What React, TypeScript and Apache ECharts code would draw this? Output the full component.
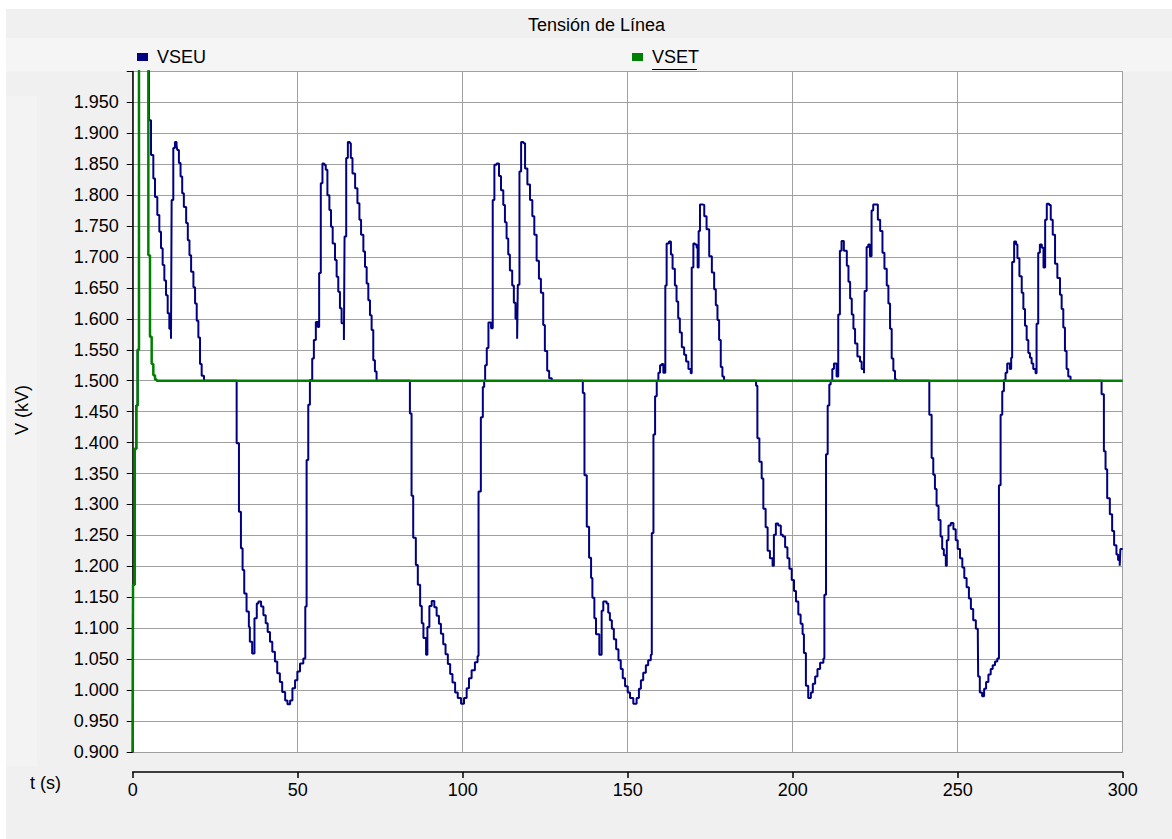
import React, { useEffect, useRef } from "react";
import * as echarts from "echarts";

const FONT = "'Liberation Sans', Arial, sans-serif";

const chartTitle = "Tensión de Línea";
const seriesNames = ["VSEU", "VSET"];
const xTicks = { min: 0, max: 300, interval: 50 };
const yTicks = { min: 0.9, max: 2.0, interval: 0.05 };

// VSET: [t (s), V (kV)]
const vsetData = [
  [0, 0.9], [0.1, 1.17], [0.6, 1.39], [1.1, 1.46], [1.5, 1.55], [1.9, 2.2],
  [4.74, 1.703], [5.24, 1.571], [5.75, 1.527], [6.25, 1.509], [6.76, 1.502], [7.27, 1.5], [300, 1.5],
];

// VSEU segments: [t (s), V (kV)]
const vseuStart = [
  [0, 0.9], [0.1, 1.17], [0.6, 1.39], [1.1, 1.46], [1.5, 1.55], [1.9, 2.2],
  [4.94, 1.921], [5.55, 1.865], [6.25, 1.827], [6.76, 1.797], [7.46, 1.768], [8.07, 1.741], [8.58, 1.714],
  [9.08, 1.687], [9.59, 1.662], [10.1, 1.638], [10.6, 1.609], [11.1, 1.584], [11.6, 1.568], [11.8, 1.792],
  [12.3, 1.876], [12.8, 1.886], [13.3, 1.88], [13.5, 1.873], [14.0, 1.852], [14.5, 1.83], [15.0, 1.803],
  [15.5, 1.781], [16.2, 1.755], [16.7, 1.727], [17.2, 1.703], [17.7, 1.676], [18.4, 1.651], [18.9, 1.625],
  [19.4, 1.597], [19.9, 1.57], [20.4, 1.527], [20.9, 1.508], [21.6, 1.5],
];

const vseuCycle1 = [
  [31.5, 1.399], [32.2, 1.288], [32.8, 1.229], [33.3, 1.194], [33.8, 1.156], [34.5, 1.127], [35.2, 1.102],
  [35.5, 1.078], [36.2, 1.059], [36.9, 1.116], [37.6, 1.14], [38.1, 1.143], [38.9, 1.135], [39.6, 1.121],
  [40.3, 1.108], [40.9, 1.094], [41.6, 1.078], [42.3, 1.062], [43.1, 1.046], [43.8, 1.027], [44.6, 1.013],
  [45.3, 0.997], [46.2, 0.983], [46.9, 0.977], [47.7, 0.983], [48.4, 1.003], [49.2, 1.016], [49.9, 1.03],
  [50.7, 1.043], [51.7, 1.051], [52.3, 1.135], [52.7, 1.372], [53.2, 1.461], [53.7, 1.501], [54.4, 1.536],
  [54.9, 1.566], [55.5, 1.595], [56.1, 1.587], [56.5, 1.674], [57.0, 1.819], [57.5, 1.851], [58.0, 1.849],
  [58.5, 1.841], [59.0, 1.8], [59.6, 1.776], [60.1, 1.749], [60.6, 1.722], [61.3, 1.695], [61.8, 1.668],
  [62.3, 1.644], [62.8, 1.617], [63.3, 1.593], [64.0, 1.566], [64.2, 1.733], [64.7, 1.86], [65.2, 1.886],
  [65.8, 1.884], [66.1, 1.86], [66.6, 1.835], [67.4, 1.811], [68.1, 1.787], [68.7, 1.76], [69.2, 1.736],
  [69.9, 1.709], [70.4, 1.684], [70.9, 1.657], [71.4, 1.63], [71.9, 1.606], [72.4, 1.582], [72.9, 1.533],
  [73.4, 1.515], [73.9, 1.5],
];

const vseuCycle2 = [
  [84.0, 1.447], [84.5, 1.314], [85.0, 1.246], [85.8, 1.202], [86.4, 1.17], [87.1, 1.136], [87.6, 1.108],
  [88.1, 1.084], [88.9, 1.057], [89.3, 1.102], [89.9, 1.136], [90.6, 1.144], [91.4, 1.134], [92.1, 1.12],
  [92.8, 1.107], [93.4, 1.091], [94.1, 1.074], [94.8, 1.058], [95.5, 1.042], [96.2, 1.026], [96.9, 1.012],
  [97.7, 0.996], [98.5, 0.987], [99.5, 0.978], [100.4, 0.987], [101.2, 1.003], [101.9, 1.019], [102.7, 1.032],
  [103.7, 1.045], [104.5, 1.055], [104.8, 1.321], [105.5, 1.441], [106.1, 1.49], [106.5, 1.5], [106.8, 1.525],
  [107.3, 1.553], [107.8, 1.594], [108.6, 1.585], [109.1, 1.792], [109.6, 1.849], [110.3, 1.851], [111.0, 1.831],
  [111.6, 1.808], [112.3, 1.784], [112.8, 1.756], [113.3, 1.73], [113.8, 1.704], [114.3, 1.678], [115.0, 1.654],
  [115.5, 1.626], [116.0, 1.6], [116.5, 1.568], [116.7, 1.655], [117.2, 1.838], [117.7, 1.886], [118.4, 1.884],
  [118.9, 1.843], [119.6, 1.817], [120.4, 1.792], [121.1, 1.766], [121.7, 1.736], [122.4, 1.694], [123.1, 1.665],
  [123.7, 1.642], [124.4, 1.59], [124.9, 1.548], [125.6, 1.516], [126.2, 1.504], [127.0, 1.5],
];

const vseuCycle3 = [
  [136.4, 1.48], [136.9, 1.347], [137.6, 1.264], [138.3, 1.214], [138.9, 1.181], [139.3, 1.149], [139.9, 1.116],
  [140.4, 1.09], [141.4, 1.057], [142.1, 1.128], [142.6, 1.143], [143.6, 1.14], [144.1, 1.125], [144.6, 1.113],
  [145.2, 1.099], [145.8, 1.082], [146.5, 1.066], [147.2, 1.048], [147.9, 1.034], [148.5, 1.019], [149.2, 1.006],
  [150.0, 0.996], [150.7, 0.987], [151.7, 0.978], [152.7, 0.987], [153.4, 1.002], [154.0, 1.016], [154.7, 1.028],
  [155.5, 1.04], [156.2, 1.048], [157.0, 1.057], [157.3, 1.254], [157.8, 1.413], [158.3, 1.475], [158.8, 1.5],
  [159.3, 1.513], [159.8, 1.525], [160.3, 1.527], [160.8, 1.513], [161.4, 1.654], [161.8, 1.722], [162.5, 1.725],
  [163.1, 1.704], [163.6, 1.681], [164.3, 1.654], [164.8, 1.628], [165.3, 1.601], [165.8, 1.578], [166.4, 1.554],
  [167.1, 1.542], [167.7, 1.531], [168.4, 1.519], [169.1, 1.512], [169.4, 1.683], [169.9, 1.722], [170.4, 1.72],
  [170.9, 1.715], [171.2, 1.683], [171.5, 1.742], [171.9, 1.785], [172.6, 1.784], [173.2, 1.766], [173.9, 1.745],
  [174.7, 1.701], [175.5, 1.675], [176.2, 1.648], [176.7, 1.622], [177.2, 1.598], [177.7, 1.566], [178.2, 1.522],
  [178.7, 1.507], [179.2, 1.5],
];

const vseuCycle4 = [
  [188.9, 1.492], [189.3, 1.407], [189.9, 1.369], [190.6, 1.342], [191.1, 1.293], [191.8, 1.263], [192.4, 1.225],
  [193.1, 1.213], [193.9, 1.201], [194.3, 1.251], [194.9, 1.269], [195.6, 1.266], [196.4, 1.251], [197.0, 1.248],
  [197.7, 1.231], [198.4, 1.213], [199.0, 1.196], [199.7, 1.178], [200.4, 1.16], [201.0, 1.143], [201.7, 1.122],
  [202.4, 1.107], [203.0, 1.09], [203.4, 1.06], [204.0, 1.007], [204.7, 0.987], [205.5, 0.996], [206.1, 1.01],
  [206.8, 1.022], [207.5, 1.034], [208.3, 1.044], [209.3, 1.051], [209.6, 1.154], [210.1, 1.381], [210.6, 1.46],
  [211.1, 1.494], [211.5, 1.5], [212.0, 1.519], [212.5, 1.528], [213.3, 1.507], [213.8, 1.607], [214.3, 1.71],
  [214.8, 1.726], [215.5, 1.71], [216.4, 1.686], [216.9, 1.66], [217.4, 1.633], [217.9, 1.607], [218.4, 1.584],
  [218.9, 1.56], [219.6, 1.539], [220.4, 1.531], [220.9, 1.519], [221.6, 1.512], [221.8, 1.645], [222.4, 1.716],
  [222.9, 1.72], [223.4, 1.701], [223.9, 1.775], [224.4, 1.785], [225.2, 1.785], [225.8, 1.76], [226.5, 1.742],
  [227.2, 1.707], [227.8, 1.681], [228.5, 1.654], [229.0, 1.625], [229.5, 1.584], [230.0, 1.536], [230.5, 1.516],
  [231.0, 1.502], [231.5, 1.5],
];

const vseuCycle5 = [
  [241.4, 1.445], [242.1, 1.375], [242.6, 1.348], [243.1, 1.325], [243.6, 1.298], [244.2, 1.275], [244.8, 1.248],
  [245.3, 1.228], [245.8, 1.218], [246.4, 1.201], [246.7, 1.242], [247.2, 1.266], [247.9, 1.27], [248.7, 1.26],
  [249.4, 1.242], [250.0, 1.228], [250.7, 1.213], [251.4, 1.198], [252.0, 1.181], [252.7, 1.166], [253.4, 1.148],
  [254.0, 1.131], [254.7, 1.113], [255.5, 1.099], [256.1, 1.087], [256.2, 1.022], [256.7, 0.996], [257.4, 0.99],
  [258.0, 1.002], [258.6, 1.013], [259.3, 1.025], [260.0, 1.034], [260.6, 1.04], [261.3, 1.046], [262.0, 1.051],
  [262.5, 1.331], [263.0, 1.445], [263.5, 1.483], [264.0, 1.501], [264.5, 1.513], [265.0, 1.528], [265.8, 1.519],
  [266.2, 1.537], [266.5, 1.692], [267.1, 1.725], [267.7, 1.72], [268.1, 1.698], [268.7, 1.669], [269.4, 1.642],
  [269.9, 1.616], [270.4, 1.589], [270.9, 1.566], [271.4, 1.545], [271.9, 1.537], [272.4, 1.528], [272.9, 1.519],
  [273.6, 1.512], [273.9, 1.592], [274.4, 1.707], [274.9, 1.72], [275.5, 1.715], [276.0, 1.683], [276.5, 1.76],
  [277.0, 1.786], [277.7, 1.784], [278.2, 1.76], [278.8, 1.736], [279.5, 1.689], [280.2, 1.666], [281.0, 1.639],
  [281.5, 1.616], [282.0, 1.586], [282.5, 1.548], [283.0, 1.519], [283.5, 1.507], [284.2, 1.5],
];

const vseuEnd = [
  [293.6, 1.478], [294.3, 1.386], [294.8, 1.357], [295.3, 1.31], [296.1, 1.284], [296.8, 1.257], [297.4, 1.234],
  [298.1, 1.219], [298.6, 1.21], [299.1, 1.201], [299.3, 1.228], [300, 1.228],
];

const vseuData = [
  ...vseuStart, ...vseuCycle1, ...vseuCycle2, ...vseuCycle3, ...vseuCycle4, ...vseuCycle5, ...vseuEnd,
];

export default function App() {
  const ref = useRef<HTMLDivElement>(null);

  useEffect(() => {
    document.body.style.margin = "0";
    const chart = echarts.init(ref.current as HTMLDivElement, null, { renderer: "svg" });
    const axisText = { fontSize: 18, color: "#000", fontFamily: FONT };
    const legendText = { fontSize: 18, color: "#000", fontFamily: FONT, lineHeight: 20, padding: [0, 0, 0, 4] };
    chart.setOption({
      animation: false,
      backgroundColor: "#f0f0f0",
      textStyle: { fontFamily: FONT },
      title: {
        text: chartTitle,
        left: 528,
        top: 15,
        padding: 0,
        textStyle: { fontSize: 18, fontWeight: "normal", color: "#000", fontFamily: FONT, lineHeight: 20 },
      },
      legend: [
        {
          data: [seriesNames[0]],
          left: 137,
          top: 47,
          padding: 0,
          icon: "rect",
          itemWidth: 11,
          itemHeight: 8,
          selectedMode: false,
          textStyle: legendText,
        },
        {
          data: [seriesNames[1]],
          left: 632,
          top: 47,
          padding: 0,
          icon: "rect",
          itemWidth: 11,
          itemHeight: 8,
          selectedMode: false,
          textStyle: legendText,
        },
      ],
      grid: {
        left: 132.7,
        right: 49.3,
        top: 71.4,
        bottom: 87.1,
        show: true,
        backgroundColor: "#ffffff",
        borderWidth: 0,
      },
      xAxis: {
        type: "value",
        min: xTicks.min,
        max: xTicks.max,
        interval: xTicks.interval,
        offset: 20,
        axisLine: { show: true, onZero: false, lineStyle: { color: "#000", width: 1.5 } },
        axisTick: { show: true, length: 6, lineStyle: { color: "#000", width: 1.5 } },
        axisLabel: { ...axisText, margin: 9 },
        splitLine: { show: true, lineStyle: { color: "#a0a0a0", width: 1 } },
      },
      yAxis: {
        type: "value",
        min: yTicks.min,
        max: yTicks.max,
        interval: yTicks.interval,
        axisLine: { show: true, onZero: false, lineStyle: { color: "#000", width: 1.5 } },
        axisTick: { show: true, length: 6, lineStyle: { color: "#000", width: 1 } },
        axisLabel: {
          ...axisText,
          margin: 14,
          formatter: (v: number) => (v > 1.99 ? "" : v.toFixed(3)),
        },
        splitLine: { show: true, lineStyle: { color: "#a0a0a0", width: 1 } },
      },
      graphic: [
        { type: "rect", z: -10, silent: true, shape: { x: 0, y: 0, width: 1172, height: 9 }, style: { fill: "#ffffff" } },
        { type: "rect", z: -10, silent: true, shape: { x: 0, y: 0, width: 6, height: 839 }, style: { fill: "#ffffff" } },
        { type: "rect", z: -10, silent: true, shape: { x: 6, y: 38, width: 1166, height: 33.4 }, style: { fill: "#f5f5f5" } },
        { type: "rect", z: -10, silent: true, shape: { x: 6, y: 96, width: 31, height: 670 }, style: { fill: "#f3f3f3" } },
        {
          type: "text",
          x: 22,
          y: 410,
          rotation: Math.PI / 2,
          style: {
            text: "V (kV)",
            fontSize: 18,
            fontFamily: FONT,
            fill: "#000",
            textAlign: "center",
            align: "center",
            textVerticalAlign: "middle",
            verticalAlign: "middle",
          },
        },
        {
          type: "text",
          x: 30,
          y: 783,
          style: {
            text: "t (s)",
            fontSize: 18,
            fontFamily: FONT,
            fill: "#000",
            textAlign: "left",
            align: "left",
            textVerticalAlign: "middle",
            verticalAlign: "middle",
          },
        },
        {
          type: "line",
          silent: true,
          shape: { x1: 652, y1: 69.5, x2: 697, y2: 69.5 },
          style: { stroke: "#000", lineWidth: 1 },
        },
      ],
      series: [
        {
          name: seriesNames[0],
          type: "line",
          data: vseuData,
          step: "end",
          symbol: "none",
          showSymbol: false,
          clip: true,
          lineStyle: { color: "#000080", width: 2 },
          itemStyle: { color: "#000080" },
          z: 2,
        },
        {
          name: seriesNames[1],
          type: "line",
          data: vsetData,
          step: "end",
          symbol: "none",
          showSymbol: false,
          clip: true,
          lineStyle: { color: "#008000", width: 2.5 },
          itemStyle: { color: "#008000" },
          z: 3,
        },
      ],
    });
    return () => chart.dispose();
  }, []);

  return <div ref={ref} style={{ width: 1172, height: 839 }} />;
}
